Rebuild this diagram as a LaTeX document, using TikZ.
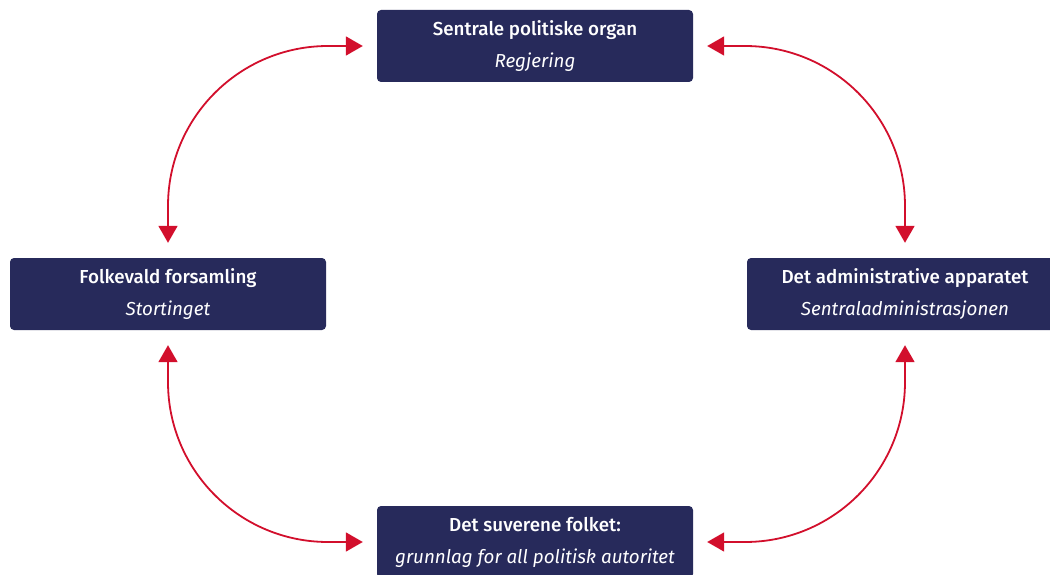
\documentclass[tikz,border=0pt]{standalone}
\usepackage{fontspec}
\setmainfont{Fira Sans}
\newfontfamily\mediumfont{Fira Sans Medium}
\usetikzlibrary{arrows.meta}
\usetikzlibrary{positioning}
\definecolor{navy}{HTML}{272A5B}
\definecolor{signalred}{HTML}{D20F2C}
\tikzset{
    organ/.style={
        fill=navy,
        rounded corners=4pt,
        minimum width=316pt,
        minimum height=72pt,
        inner sep=0pt,
        align=center,
        text=white,
        font=\fontsize{18.8}{32}\selectfont
    },
    biarrow/.style={
        draw=signalred,
        line width=1.8pt,
        rounded corners=160pt,
        {Triangle[length=17pt, width=19pt]}-{Triangle[length=17pt, width=19pt]}
    }
}

\begin{document}
\begin{tikzpicture}[x=1pt, y=-1pt]
  \useasboundingbox (0,0) rectangle (1050,575);

  % The four organs
  \node[organ] (sentral) at (535,46) {{\mediumfont Sentrale politiske organ}\\\textit{Regjering}};
  \node[organ] (storting) at (168,294) {{\mediumfont Folkevald forsamling}\\\textit{Stortinget}};
  \node[organ] (admin) at (905,294) {{\mediumfont Det administrative apparatet}\\\textit{Sentraladministrasjonen}};
  \node[organ] (folket) at (535,542) {{\mediumfont Det suverene folket:}\\\textit{grunnlag for all politisk autoritet}};

  % Curved two-way arrows
  \draw[biarrow] ([yshift=15pt]storting.north) |- ([xshift=-14pt]sentral.west);
  \draw[biarrow] ([yshift=15pt]admin.north) |- ([xshift=14pt]sentral.east);
  \draw[biarrow] ([yshift=-15pt]storting.south) |- ([xshift=-14pt]folket.west);
  \draw[biarrow] ([yshift=-15pt]admin.south) |- ([xshift=14pt]folket.east);
\end{tikzpicture}
\end{document}
